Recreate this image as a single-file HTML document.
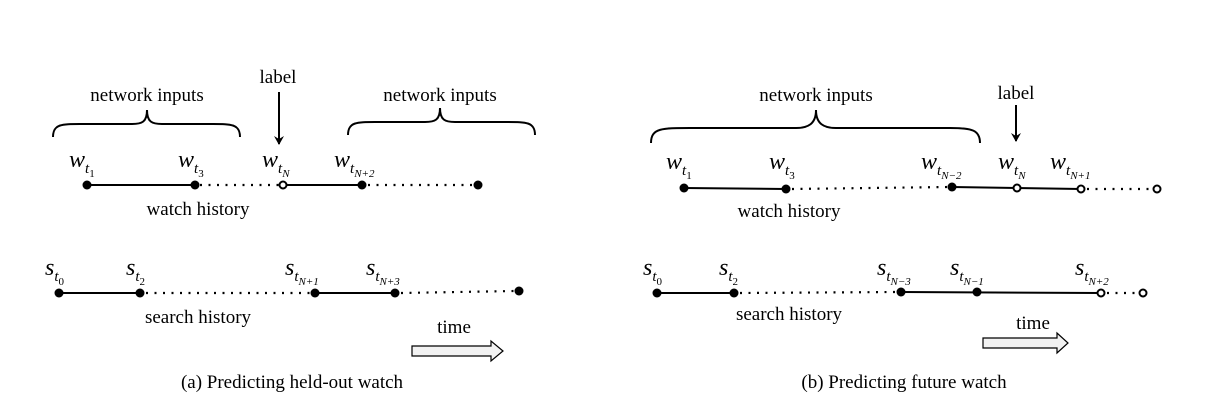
<!DOCTYPE html>
<html><head><meta charset="utf-8"><style>
html,body{margin:0;padding:0;background:#fff;}
svg{display:block;}
text{font-family:"Liberation Serif",serif;fill:#000;}
.t{font-size:19px;}
.m{font-size:24px;font-style:italic;}
.s{font-size:15px;font-style:italic;}
.ss{font-size:11px;}
</style></head><body>
<svg width="1212" height="405" viewBox="0 0 1212 405" xmlns="http://www.w3.org/2000/svg">
<defs><marker id="ah" markerWidth="10" markerHeight="10" refX="8" refY="5" orient="auto" markerUnits="userSpaceOnUse"><path d="M0,0 L9,5 L0,10 L3,5 Z" fill="#000"/></marker></defs>
<g fill="none" stroke="#000" stroke-width="2">
<!-- braces -->
<path d="M53,137 C53,124 62,124 80,124 L132,124 C142,124 147,122 147,110 C147,122 152,124 162,124 L213,124 C231,124 240,124 240,137"/>
<path d="M348,135 C348,122 357,122 375,122 L425,122 C435,122 440,120 440,108 C440,120 445,122 455,122 L508,122 C526,122 535,122 535,135"/>
<path d="M651,143 C651,128 662,128 690,128 L796,128 C808,128 816,124 816,110 C816,124 824,128 836,128 L950,128 C972,128 980,130 980,143"/>
<!-- label arrows -->
<line x1="279" y1="92" x2="279" y2="144" marker-end="url(#ah)"/>
<line x1="1016" y1="105" x2="1016" y2="141" marker-end="url(#ah)"/>
<!-- left watch -->
<line x1="87" y1="185" x2="195" y2="185"/>
<line x1="283" y1="185" x2="362" y2="185"/>
<line x1="200" y1="185" x2="280" y2="185" stroke-dasharray="2 6.5" stroke-width="2.2"/>
<line x1="368" y1="185" x2="474" y2="185" stroke-dasharray="2 6.5" stroke-width="2.2"/>
<!-- left search -->
<line x1="59" y1="293" x2="140" y2="293"/>
<line x1="315" y1="293" x2="395" y2="293"/>
<line x1="146" y1="293" x2="311" y2="293" stroke-dasharray="2 6.5" stroke-width="2.2"/>
<line x1="401" y1="293" x2="515" y2="291" stroke-dasharray="2 6.5" stroke-width="2.2"/>
<!-- right watch -->
<line x1="684" y1="188" x2="786" y2="189"/>
<line x1="952" y1="187" x2="1081" y2="189"/>
<line x1="792" y1="189" x2="948" y2="187" stroke-dasharray="2 6.5" stroke-width="2.2"/>
<line x1="1087" y1="189" x2="1153" y2="189" stroke-dasharray="2 6.5" stroke-width="2.2"/>
<!-- right search -->
<line x1="657" y1="293" x2="734" y2="293"/>
<line x1="901" y1="292" x2="1101" y2="293"/>
<line x1="740" y1="293" x2="897" y2="292" stroke-dasharray="2 6.5" stroke-width="2.2"/>
<line x1="1107" y1="293" x2="1139" y2="293" stroke-dasharray="2 6.5" stroke-width="2.2"/>
<!-- time arrows -->
<path d="M412,346 L491,346 L491,341 L503,351 L491,361 L491,356 L412,356 Z" stroke-width="1.2" fill="#f2f2f2"/>
<path d="M983,338 L1057,338 L1057,333 L1068,343 L1057,353 L1057,348 L983,348 Z" stroke-width="1.2" fill="#f2f2f2"/>
</g>
<!-- dots -->
<g fill="#000">
<circle cx="87" cy="185" r="4.5"/><circle cx="195" cy="185" r="4.5"/><circle cx="362" cy="185" r="4.5"/><circle cx="478" cy="185" r="4.5"/>
<circle cx="59" cy="293" r="4.5"/><circle cx="140" cy="293" r="4.5"/><circle cx="315" cy="293" r="4.5"/><circle cx="395" cy="293" r="4.5"/><circle cx="519" cy="291" r="4.5"/>
<circle cx="684" cy="188" r="4.5"/><circle cx="786" cy="189" r="4.5"/><circle cx="952" cy="187" r="4.5"/>
<circle cx="657" cy="293" r="4.5"/><circle cx="734" cy="293" r="4.5"/><circle cx="901" cy="292" r="4.5"/><circle cx="977" cy="292" r="4.5"/>
</g>
<g fill="#fff" stroke="#000" stroke-width="2">
<circle cx="283" cy="185" r="3.5"/>
<circle cx="1017" cy="188" r="3.5"/><circle cx="1081" cy="189" r="3.5"/><circle cx="1157" cy="189" r="3.5"/>
<circle cx="1101" cy="293" r="3.5"/><circle cx="1143" cy="293" r="3.5"/>
</g>
<!-- text -->
<text class="t" x="147" y="101" text-anchor="middle">network inputs</text>
<text class="t" x="440" y="101" text-anchor="middle">network inputs</text>
<text class="t" x="278" y="83" text-anchor="middle">label</text>
<text class="t" x="198" y="215" text-anchor="middle">watch history</text>
<text class="t" x="198" y="323" text-anchor="middle">search history</text>
<text class="t" x="454" y="333" text-anchor="middle">time</text>
<text class="t" x="292" y="388" text-anchor="middle">(a) Predicting held-out watch</text>
<text class="t" x="816" y="101" text-anchor="middle">network inputs</text>
<text class="t" x="1016" y="99" text-anchor="middle">label</text>
<text class="t" x="789" y="217" text-anchor="middle">watch history</text>
<text class="t" x="789" y="320" text-anchor="middle">search history</text>
<text class="t" x="1033" y="329" text-anchor="middle">time</text>
<text class="t" x="904" y="388" text-anchor="middle">(b) Predicting future watch</text>
<!-- math labels left -->
<text class="m" x="69" y="167">w<tspan class="s" dy="6">t</tspan><tspan class="ss" font-style="normal" dy="4">1</tspan></text>
<text class="m" x="178" y="167">w<tspan class="s" dy="6">t</tspan><tspan class="ss" font-style="normal" dy="4">3</tspan></text>
<text class="m" x="262" y="167">w<tspan class="s" dy="6">t</tspan><tspan class="ss" dy="4">N</tspan></text>
<text class="m" x="334" y="167">w<tspan class="s" dy="6">t</tspan><tspan class="ss" dy="4">N+2</tspan></text>
<text class="m" x="45" y="275">s<tspan class="s" dy="6">t</tspan><tspan class="ss" font-style="normal" dy="4">0</tspan></text>
<text class="m" x="126" y="275">s<tspan class="s" dy="6">t</tspan><tspan class="ss" font-style="normal" dy="4">2</tspan></text>
<text class="m" x="285" y="275">s<tspan class="s" dy="6">t</tspan><tspan class="ss" dy="4">N+1</tspan></text>
<text class="m" x="366" y="275">s<tspan class="s" dy="6">t</tspan><tspan class="ss" dy="4">N+3</tspan></text>
<!-- math labels right -->
<text class="m" x="666" y="169">w<tspan class="s" dy="6">t</tspan><tspan class="ss" font-style="normal" dy="4">1</tspan></text>
<text class="m" x="769" y="169">w<tspan class="s" dy="6">t</tspan><tspan class="ss" font-style="normal" dy="4">3</tspan></text>
<text class="m" x="921" y="169">w<tspan class="s" dy="6">t</tspan><tspan class="ss" dy="4">N−2</tspan></text>
<text class="m" x="998" y="169">w<tspan class="s" dy="6">t</tspan><tspan class="ss" dy="4">N</tspan></text>
<text class="m" x="1050" y="169">w<tspan class="s" dy="6">t</tspan><tspan class="ss" dy="4">N+1</tspan></text>
<text class="m" x="643" y="275">s<tspan class="s" dy="6">t</tspan><tspan class="ss" font-style="normal" dy="4">0</tspan></text>
<text class="m" x="719" y="275">s<tspan class="s" dy="6">t</tspan><tspan class="ss" font-style="normal" dy="4">2</tspan></text>
<text class="m" x="877" y="275">s<tspan class="s" dy="6">t</tspan><tspan class="ss" dy="4">N−3</tspan></text>
<text class="m" x="950" y="275">s<tspan class="s" dy="6">t</tspan><tspan class="ss" dy="4">N−1</tspan></text>
<text class="m" x="1075" y="275">s<tspan class="s" dy="6">t</tspan><tspan class="ss" dy="4">N+2</tspan></text>
</svg>
</body></html>
